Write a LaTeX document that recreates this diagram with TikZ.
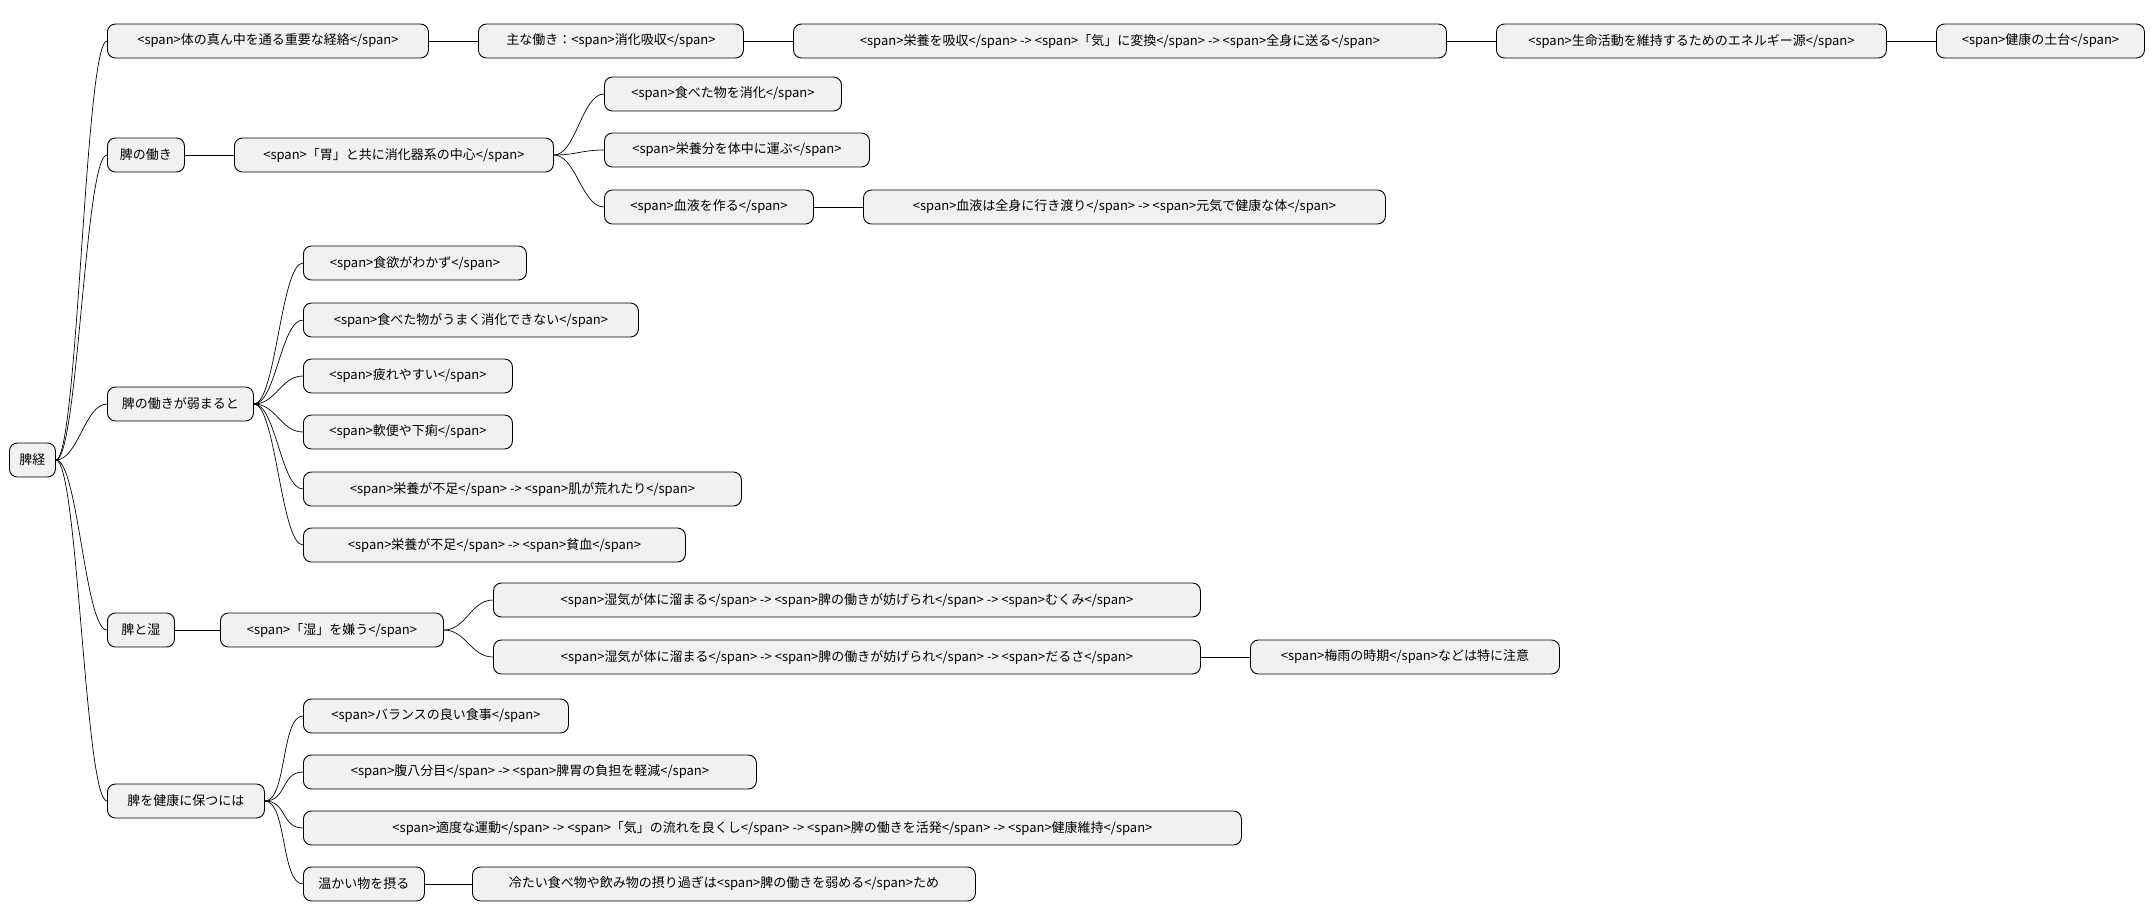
\documentclass[tikz,border=0pt]{standalone}
\usepackage{fontspec}
\setmainfont{Noto Sans CJK JP}
\begin{document}
\begin{tikzpicture}[x=1pt,y=-1pt,
  bx/.style={draw=black,line width=0.9pt,fill={rgb,255:red,241;green,241;blue,241},rounded corners=8pt,anchor=west,minimum height=34pt,inner xsep=5pt,font=\fontsize{13}{15}\selectfont,align=center},
  ln/.style={line width=0.7pt}]
\useasboundingbox (0,0) rectangle (2156,921);
\newcommand{\bn}[5]{\node[bx,minimum width={#4-#3}] (#1) at (#3,#5) {#2};}
\bn{r}{脾経}{9}{55}{460}
\bn{a}{<span>体の真ん中を通る重要な経絡</span>}{107}{428}{41}
\bn{a1}{主な働き：<span>消化吸収</span>}{478}{743}{41}
\bn{a2}{<span>栄養を吸収</span> -> <span>「気」に変換</span> -> <span>全身に送る</span>}{793}{1446}{41}
\bn{a3}{<span>生命活動を維持するためのエネルギー源</span>}{1496}{1886}{41}
\bn{a4}{<span>健康の土台</span>}{1936}{2144}{41}
\bn{b}{脾の働き}{107}{184}{155}
\bn{b1}{<span>「胃」と共に消化器系の中心</span>}{234}{553}{155}
\bn{b11}{<span>食べた物を消化</span>}{604}{841}{94}
\bn{b12}{<span>栄養分を体中に運ぶ</span>}{604}{869}{150}
\bn{b13}{<span>血液を作る</span>}{604}{813}{207}
\bn{b14}{<span>血液は全身に行き渡り</span> -> <span>元気で健康な体</span>}{863}{1385}{207}
\bn{c}{脾の働きが弱まると}{107}{253}{404}
\bn{c1}{<span>食欲がわかず</span>}{303}{526}{263}
\bn{c2}{<span>食べた物がうまく消化できない</span>}{303}{638}{320}
\bn{c3}{<span>疲れやすい</span>}{303}{512}{376}
\bn{c4}{<span>軟便や下痢</span>}{303}{512}{432}
\bn{c5}{<span>栄養が不足</span> -> <span>肌が荒れたり</span>}{303}{741}{489}
\bn{c6}{<span>栄養が不足</span> -> <span>貧血</span>}{303}{685}{545}
\bn{d}{脾と湿}{107}{174}{630}
\bn{d1}{<span>「湿」を嫌う</span>}{220}{443}{630}
\bn{d11}{<span>湿気が体に溜まる</span> -> <span>脾の働きが妨げられ</span> -> <span>むくみ</span>}{493}{1200}{600}
\bn{d12}{<span>湿気が体に溜まる</span> -> <span>脾の働きが妨げられ</span> -> <span>だるさ</span>}{493}{1200}{657}
\bn{d13}{<span>梅雨の時期</span>などは特に注意}{1250}{1559}{657}
\bn{e}{脾を健康に保つには}{107}{264}{801}
\bn{e1}{<span>バランスの良い食事</span>}{303}{568}{716}
\bn{e2}{<span>腹八分目</span> -> <span>脾胃の負担を軽減</span>}{303}{756}{772}
\bn{e3}{<span>適度な運動</span> -> <span>「気」の流れを良くし</span> -> <span>脾の働きを活発</span> -> <span>健康維持</span>}{303}{1241}{828}
\bn{e4}{温かい物を摂る}{303}{424}{884}
\bn{e41}{冷たい食べ物や飲み物の摂り過ぎは<span>脾の働きを弱める</span>ため}{472}{975}{884}
\foreach \p/\c in {r/a,r/b,r/c,r/d,r/e,b1/b11,b1/b12,b1/b13,c/c1,c/c2,c/c3,c/c4,c/c5,c/c6,d1/d11,d1/d12,e/e1,e/e2,e/e3,e/e4}
  \draw[ln] (\p.east) .. controls +(22,0) and +(-22,0) .. (\c.west);
\foreach \p/\c in {a/a1,a1/a2,a2/a3,a3/a4,b/b1,b13/b14,d/d1,d12/d13,e4/e41}
  \draw[ln] (\p.east) -- (\c.west);
\end{tikzpicture}
\end{document}
